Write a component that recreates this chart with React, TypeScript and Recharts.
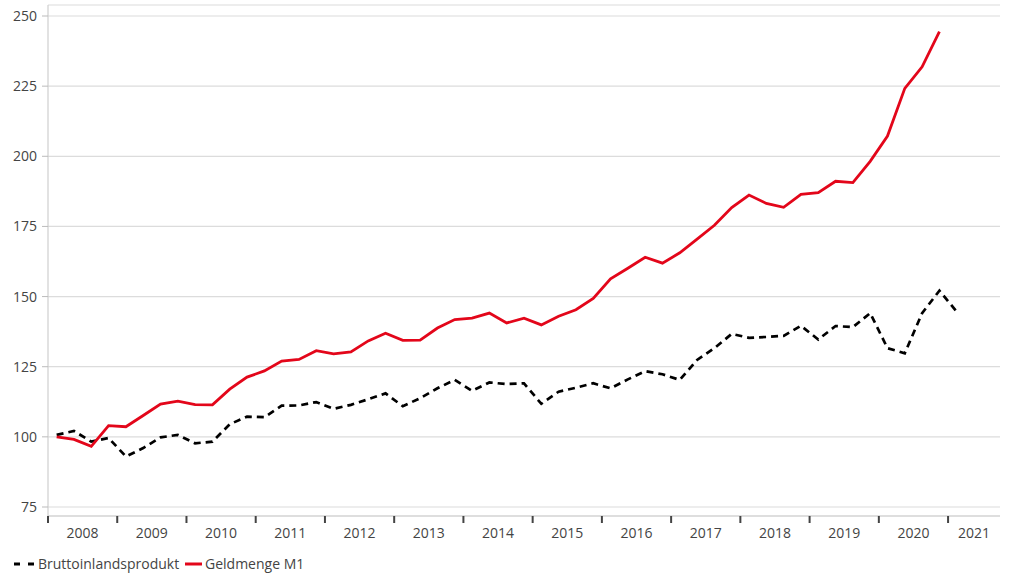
import React from "react";
import { LineChart, Line, XAxis, YAxis, CartesianGrid } from "recharts";

// quarterly index values, 2008 Q1 = 100
const bip = [
  100.7, 102.1, 98.3, 99.6, 93.0, 96.0, 99.8, 100.7, 97.7, 98.3,
  104.5, 107.2, 107.0, 111.1, 111.2, 112.4, 110.0, 111.4, 113.4, 115.5,
  110.9, 113.8, 117.3, 120.3, 116.4, 119.4, 118.8, 119.1, 111.8, 116.1,
  117.5, 119.1, 117.3, 120.5, 123.4, 122.3, 120.3, 127.4, 131.6, 136.7,
  135.3, 135.6, 136.0, 139.6, 134.7, 139.5, 139.1, 144.1, 131.6, 129.8,
  144.1, 152.1, 144.6,
];

const m1 = [
  100.0, 99.1, 96.6, 104.0, 103.6, 107.6, 111.7, 112.7, 111.5, 111.4,
  117.0, 121.3, 123.5, 127.0, 127.6, 130.7, 129.6, 130.3, 134.2, 136.9,
  134.4, 134.5, 138.8, 141.8, 142.3, 144.1, 140.6, 142.3, 139.9, 143.0,
  145.3, 149.3, 156.3, 160.1, 164.0, 161.9, 165.6, 170.5, 175.4, 181.7,
  186.2, 183.2, 181.8, 186.4, 187.0, 191.1, 190.6, 198.2, 207.2, 224.2,
  231.9, 244.4,
];

const years = [2008, 2009, 2010, 2011, 2012, 2013, 2014, 2015, 2016, 2017, 2018, 2019, 2020, 2021];
const yTicks = [75, 100, 125, 150, 175, 200, 225, 250];

const X_MAX = 55; // quarters shown, through 2021 Q3
const PLOT_W = 952;
const UNIT = PLOT_W / X_MAX;

const FONT = "'Open Sans', sans-serif";
const FONT_SIZE = 14;
const TEXT = "#444";

const data = bip.map((v, i) => ({
  x: i + 0.5,
  bip: v,
  m1: i < m1.length ? m1[i] : null,
}));

const yearTicks = years.map((_, k) => k * 4);

const YearTick = ({ x, y, payload }: any) => {
  const v = payload.value;
  const end = Math.min(v + 4, X_MAX);
  const dx = ((end - v) / 2) * UNIT;
  return (
    <text x={x + dx} y={y} dy="0.71em" textAnchor="middle" fill={TEXT} fontSize={FONT_SIZE} fontFamily={FONT}>
      {years[0] + v / 4}
    </text>
  );
};

export default function App() {
  return (
    <div style={{ position: "absolute", left: 0, top: 0, width: 1024, height: 580, background: "#fff" }}>
      <LineChart width={1024} height={580} data={data} margin={{ top: 5, right: 24, bottom: 34, left: 0 }}>
        <CartesianGrid vertical={false} stroke="#dcdcdc" strokeWidth={1.2} />
        <XAxis
          type="number"
          dataKey="x"
          domain={[0, X_MAX]}
          ticks={yearTicks}
          tick={<YearTick />}
          tickSize={7}
          tickMargin={5}
          height={30}
          axisLine={{ stroke: "#cfcfcf", strokeWidth: 1.2 }}
          tickLine={{ stroke: "#444", strokeWidth: 2 }}
          interval={0}
        />
        <YAxis
          domain={[75, 250]}
          ticks={yTicks}
          width={48}
          padding={{ top: 11, bottom: 9 }}
          tickSize={6}
          tickMargin={5}
          axisLine={{ stroke: "#cfcfcf", strokeWidth: 1.2 }}
          tickLine={{ stroke: "#bbb" }}
          tick={{ fill: TEXT, fontSize: FONT_SIZE, fontFamily: FONT }}
          interval={0}
        />
        <Line
          dataKey="bip"
          stroke="#000"
          strokeWidth={2.7}
          strokeDasharray="7 5"
          dot={false}
          isAnimationActive={false}
        />
        <Line
          dataKey="m1"
          stroke="#e3061a"
          strokeWidth={2.8}
          dot={false}
          isAnimationActive={false}
        />
      </LineChart>
      <div
        style={{
          position: "absolute",
          left: 0,
          top: 552,
          height: 24,
          width: 400,
          fontFamily: FONT,
          fontSize: FONT_SIZE,
          color: TEXT,
        }}
      >
        <svg width={400} height={24} style={{ position: "absolute", left: 0, top: 0 }}>
          <line x1={14} x2={34} y1={12} y2={12} stroke="#000" strokeWidth={3} strokeDasharray="6 8" />
          <line x1={185} x2={202} y1={12} y2={12} stroke="#e3061a" strokeWidth={3} />
        </svg>
        <span style={{ position: "absolute", left: 38, top: 2, whiteSpace: "nowrap" }}>
          Bruttoinlandsprodukt
        </span>
        <span style={{ position: "absolute", left: 205, top: 2, whiteSpace: "nowrap" }}>
          Geldmenge M1
        </span>
      </div>
    </div>
  );
}
